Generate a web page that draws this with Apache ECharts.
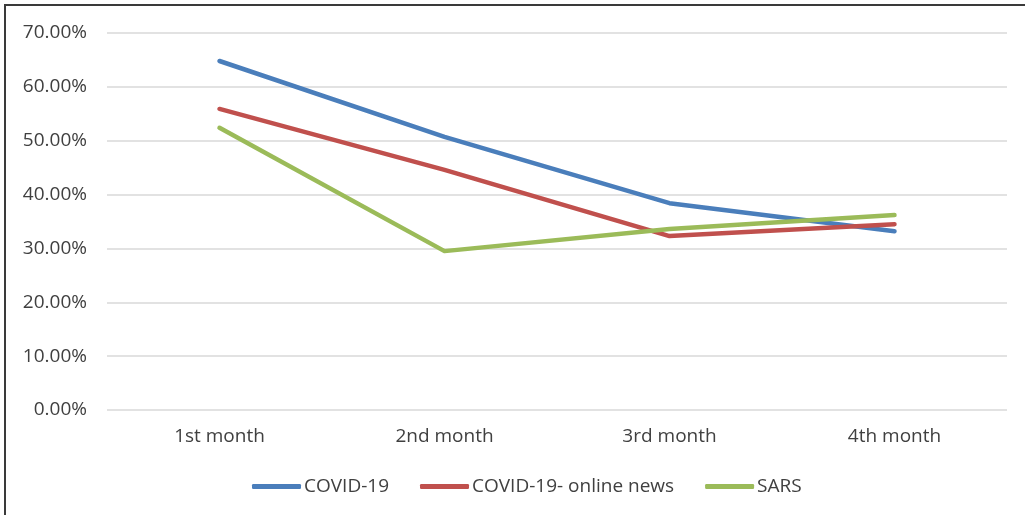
<!DOCTYPE html>
<html>
<head>
<meta charset="utf-8">
<script src="https://cdn.jsdelivr.net/npm/echarts@6/dist/echarts.min.js"></script>
<style>
  html, body { margin: 0; padding: 0; background: #fff; }
  #frame {
    position: absolute; left: 4px; top: 4px; width: 1030px; height: 520px;
    border-left: 2px solid #3a3a3a; border-top: 2px solid #3a3a3a;
  }
  #chart { position: absolute; left: 0; top: 0; width: 1025px; height: 515px; }
</style>
</head>
<body>
<div id="frame"></div>
<div id="chart"></div>
<script>
// categories and values (percent)
const months = ['1st month', '2nd month', '3rd month', '4th month'];
const covid = [64.8, 50.7, 38.4, 33.2];
const covidNews = [55.9, 44.6, 32.3, 34.5];
const sars = [52.4, 29.5, 33.6, 36.2];

const mycharts = echarts.init(document.getElementById('chart'));
const textColor = '#404040';
const font = 'Open Sans, Liberation Sans, sans-serif';

function line(name, data, color) {
  return {
    name: name,
    type: 'line',
    data: data,
    symbol: 'none',
    lineStyle: { width: 4.5, color: color, cap: 'round', join: 'round' },
    itemStyle: { color: color }
  };
}

mycharts.setOption({
  animation: false,
  grid: { left: 107, right: 18, top: 33, bottom: 105 },
  xAxis: {
    type: 'category',
    data: months,
    axisLine: { show: false },
    axisTick: { show: false },
    axisLabel: { color: textColor, fontSize: 19, fontFamily: font, margin: 17 }
  },
  yAxis: {
    type: 'value',
    min: 0, max: 70, interval: 10,
    axisLine: { show: false },
    axisTick: { show: false },
    splitLine: { lineStyle: { color: '#d9d9d9', width: 1.5 } },
    axisLabel: {
      color: textColor, fontSize: 19, fontFamily: font, margin: 20,
      formatter: v => v.toFixed(2) + '%'
    }
  },
  legend: {
    top: 472,
    left: 247,
    icon: 'roundRect',
    itemWidth: 49,
    itemHeight: 5,
    itemGap: 31,
    textStyle: { color: textColor, fontSize: 19, fontFamily: font, padding: [0, 0, 0, -2] },
    data: ['COVID-19', 'COVID-19- online news', 'SARS']
  },
  series: [
    line('COVID-19', covid, '#4a7ebb'),
    line('COVID-19- online news', covidNews, '#c0504d'),
    line('SARS', sars, '#9bbb59')
  ]
});
</script>
</body>
</html>
